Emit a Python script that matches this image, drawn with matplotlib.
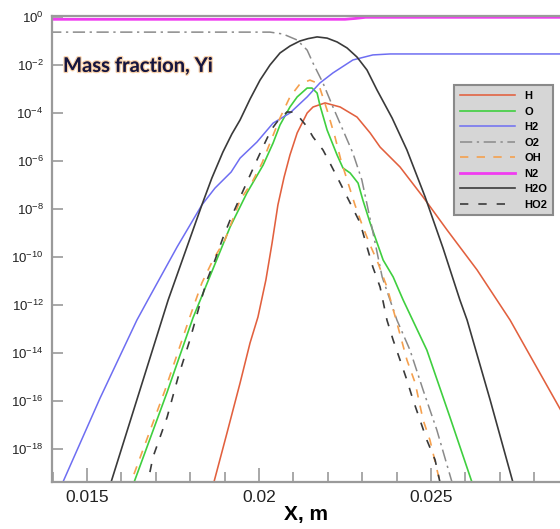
import numpy as np
import matplotlib
matplotlib.use("Agg")
import matplotlib.pyplot as plt
import matplotlib.patheffects as pe
from matplotlib.ticker import FixedLocator, FixedFormatter, MultipleLocator

plt.rcParams['font.family'] = ['Liberation Sans', 'DejaVu Sans']
plt.rcParams['mathtext.fontset'] = 'custom'
plt.rcParams['mathtext.rm'] = 'Liberation Sans'
plt.rcParams['mathtext.it'] = 'Liberation Sans'

# ---- data: x in m, log10 of mass fraction ----
x_H = [0.01863, 0.01869, 0.01907, 0.01945, 0.01974, 0.01997, 0.02020, 0.02038, 0.02055,
       0.02073, 0.02090, 0.02111, 0.02140, 0.02157, 0.02192, 0.02236, 0.02285, 0.02323,
       0.02352, 0.02410, 0.02477, 0.02547, 0.02634, 0.02730, 0.02779, 0.02880]
lg_H = [-19.71, -19.38, -17.33, -15.25, -13.58, -12.50, -10.96, -9.42, -7.83,
        -6.67, -5.75, -4.83, -4.00, -3.75, -3.58, -3.75, -4.17, -4.83,
        -5.42, -6.25, -7.50, -8.88, -10.54, -12.63, -13.88, -16.45]

x_O = [0.01631, 0.01637, 0.01733, 0.01808, 0.01916, 0.01965, 0.02012, 0.02041, 0.02061,
       0.02090, 0.02111, 0.02140, 0.02154, 0.02169, 0.02177, 0.02198, 0.02227, 0.02244,
       0.02265, 0.02288, 0.02302, 0.02323, 0.02361, 0.02390, 0.02419, 0.02488, 0.02555,
       0.02619, 0.02628]
lg_O = [-19.71, -19.38, -15.63, -12.54, -8.75, -7.33, -6.17, -5.25, -4.50,
        -3.75, -3.33, -2.96, -2.96, -3.17, -3.67, -4.71, -5.75, -6.29,
        -6.50, -6.92, -7.63, -8.58, -10.13, -10.83, -11.79, -13.88, -16.67,
        -19.38, -19.71]

x_H2 = [0.01422, 0.01430, 0.01538, 0.01645, 0.01677, 0.01762, 0.01834, 0.01872, 0.01919,
        0.01945, 0.01994, 0.02041, 0.02090, 0.02140, 0.02177, 0.02215, 0.02273, 0.02331,
        0.02381, 0.02900]
lg_H2 = [-19.71, -19.38, -15.88, -12.63, -11.79, -9.58, -7.83, -7.13, -6.46,
         -5.88, -5.21, -4.42, -4.00, -3.33, -2.75, -2.33, -1.79, -1.58,
         -1.54, -1.54]

x_O2 = [0.01390, 0.02032, 0.02070, 0.02111, 0.02140, 0.02157, 0.02186, 0.02215, 0.02244,
        0.02273, 0.02299, 0.02328, 0.02358, 0.02401, 0.02439, 0.02477, 0.02517, 0.02561,
        0.02570]
lg_O2 = [-0.63, -0.63, -0.71, -0.96, -1.38, -1.92, -2.75, -3.75, -4.71,
         -5.67, -6.79, -8.75, -10.83, -12.63, -13.88, -15.54, -17.21, -19.38,
         -19.71]

x_OH = [0.01622, 0.01628, 0.01727, 0.01799, 0.01834, 0.01866, 0.01901, 0.01945, 0.01980,
        0.02009, 0.02032, 0.02061, 0.02090, 0.02119, 0.02148, 0.02169, 0.02177, 0.02198,
        0.02221, 0.02238, 0.02259, 0.02279, 0.02302, 0.02323, 0.02346, 0.02372, 0.02401,
        0.02430, 0.02454, 0.02477, 0.02497, 0.02526, 0.02532]
lg_OH = [-19.71, -19.38, -15.54, -12.50, -11.08, -10.13, -9.29, -7.63, -6.88,
         -6.08, -5.25, -4.21, -3.33, -2.79, -2.63, -2.75, -2.96, -3.88,
         -5.00, -5.96, -6.92, -7.83, -8.75, -9.50, -10.25, -11.25, -12.75,
         -14.29, -15.25, -16.79, -17.63, -19.38, -19.71]

x_N2 = [0.01390, 0.02250, 0.02280, 0.02310, 0.02900]
lg_N2 = [-0.096, -0.096, -0.06, -0.013, -0.013]

x_H2O = [0.01563, 0.01570, 0.01736, 0.01834, 0.01863, 0.01895, 0.01921, 0.01945, 0.01974,
         0.02003, 0.02032, 0.02061, 0.02090, 0.02119, 0.02143, 0.02169, 0.02198, 0.02227,
         0.02256, 0.02285, 0.02314, 0.02343, 0.02387, 0.02430, 0.02483, 0.02535, 0.02584,
         0.02605, 0.02672, 0.02738, 0.02745]
lg_H2O = [-19.71, -19.38, -11.79, -7.83, -6.71, -5.63, -4.88, -4.29, -3.42,
          -2.63, -2.00, -1.50, -1.21, -1.00, -0.90, -0.83, -0.88, -1.04,
          -1.29, -1.67, -2.21, -3.04, -4.21, -5.54, -7.50, -9.63, -11.79,
          -12.63, -15.96, -19.38, -19.71]

x_HO2 = [0.01672, 0.01677, 0.01692, 0.01733, 0.01765, 0.01799, 0.01829, 0.01849, 0.01872,
         0.01895, 0.01916, 0.01939, 0.01965, 0.01994, 0.02017, 0.02035, 0.02052, 0.02081,
         0.02099, 0.02119, 0.02140, 0.02157, 0.02186, 0.02206, 0.02236, 0.02265, 0.02294,
         0.02314, 0.02331, 0.02352, 0.02372, 0.02390, 0.02410, 0.02430, 0.02448, 0.02468,
         0.02488, 0.02512, 0.02526, 0.02532]
lg_HO2 = [-19.71, -19.38, -18.33, -16.67, -15.00, -13.46, -11.92, -10.96, -10.13,
          -9.21, -8.46, -7.71, -6.88, -5.96, -5.25, -4.71, -4.38, -3.96,
          -3.96, -4.21, -4.58, -5.00, -5.54, -6.08, -6.92, -7.75, -8.58,
          -9.58, -10.42, -11.25, -12.63, -13.46, -14.29, -15.13, -15.96, -16.79,
          -17.63, -18.46, -19.38, -19.71]

y_tick_exponents = [0, -2, -4, -6, -8, -10, -12, -14, -16, -18]
x_major_ticks = [0.015, 0.02, 0.025]
x_tick_labels = ['0.015', '0.02', '0.025']

# ---- figure ----
fig = plt.figure(figsize=(5.6, 5.29), dpi=100)
ax = fig.add_axes([52/560, 1-482/529, 1-52/560, (482-15.5)/529])

series = [
    ('H',   x_H,   lg_H,   dict(color='#e2603e', lw=1.15, ls='-')),
    ('O',   x_O,   lg_O,   dict(color='#3fcf3f', lw=1.2, ls='-')),
    ('H2',  x_H2,  lg_H2,  dict(color='#6e6ef2', lw=1.1, ls='-')),
    ('O2',  x_O2,  lg_O2,  dict(color='#8a8a8a', lw=1.1, ls=(0, (8, 3, 1.5, 3)))),
    ('OH',  x_OH,  lg_OH,  dict(color='#f5a04e', lw=1.2, ls=(0, (5, 5)))),
    ('N2',  x_N2,  lg_N2,  dict(color='#f03cf0', lw=2.0, ls='-')),
    ('H2O', x_H2O, lg_H2O, dict(color='#3a3a3a', lw=1.2, ls='-')),
    ('HO2', x_HO2, lg_HO2, dict(color='#3a3a3a', lw=1.2, ls=(0, (5, 6)))),
]
for name, xs, lgs, st in series:
    ax.plot(xs, 10.0 ** np.array(lgs), label=name, **st)

ax.set_yscale('log')
ax.set_xlim(0.013983, 0.02875)
ax.set_ylim(10 ** -19.375, 10 ** 0.0625)

ax.yaxis.set_major_locator(FixedLocator([10.0 ** e for e in y_tick_exponents]))
ax.yaxis.set_major_formatter(FixedFormatter([r'$\mathregular{10^{%d}}$' % e for e in y_tick_exponents]))
ax.yaxis.set_minor_locator(FixedLocator([]))
ax.xaxis.set_major_locator(FixedLocator(x_major_ticks))
ax.xaxis.set_major_formatter(FixedFormatter(x_tick_labels))
ax.xaxis.set_minor_locator(MultipleLocator(0.001))

gray = '#9a9a9a'
for side in ['left', 'bottom', 'top']:
    ax.spines[side].set_color(gray)
    ax.spines[side].set_linewidth(1.6)
ax.spines['right'].set_visible(False)

ax.tick_params(axis='y', which='major', direction='in', length=8, width=1.2, color=gray,
               labelsize=9.5, labelcolor='#222222', pad=6)
ax.tick_params(axis='x', which='major', direction='in', length=10, width=1.2, color=gray,
               labelsize=12.5, labelcolor='#222222', pad=6)
ax.tick_params(axis='x', which='minor', direction='in', length=7, width=1.2, color=gray)
ax.tick_params(top=False, right=False, which='both')

ax.set_xlabel('X, m', fontsize=15, fontweight='bold', labelpad=0)

ax.text(0.0217, 0.892, 'Mass fraction, Yi', transform=ax.transAxes, fontsize=14.5,
        fontweight='bold', family=['Lato', 'DejaVu Sans'], color='#15153f', va='center', ha='left',
        path_effects=[pe.withStroke(linewidth=1.8, foreground='#f2a65a', alpha=0.5)])

leg = ax.legend(loc='upper right', bbox_to_anchor=(0.997, 0.862),
                prop={'weight': 'bold', 'size': 8}, handlelength=5.0, handletextpad=0.8,
                labelspacing=0.5, borderpad=0.5, fancybox=False, framealpha=1,
                facecolor='#d6d6d6', edgecolor='#8a8a8a')
leg.get_frame().set_linewidth(1.5)

fig.savefig('out.png', dpi=100)
